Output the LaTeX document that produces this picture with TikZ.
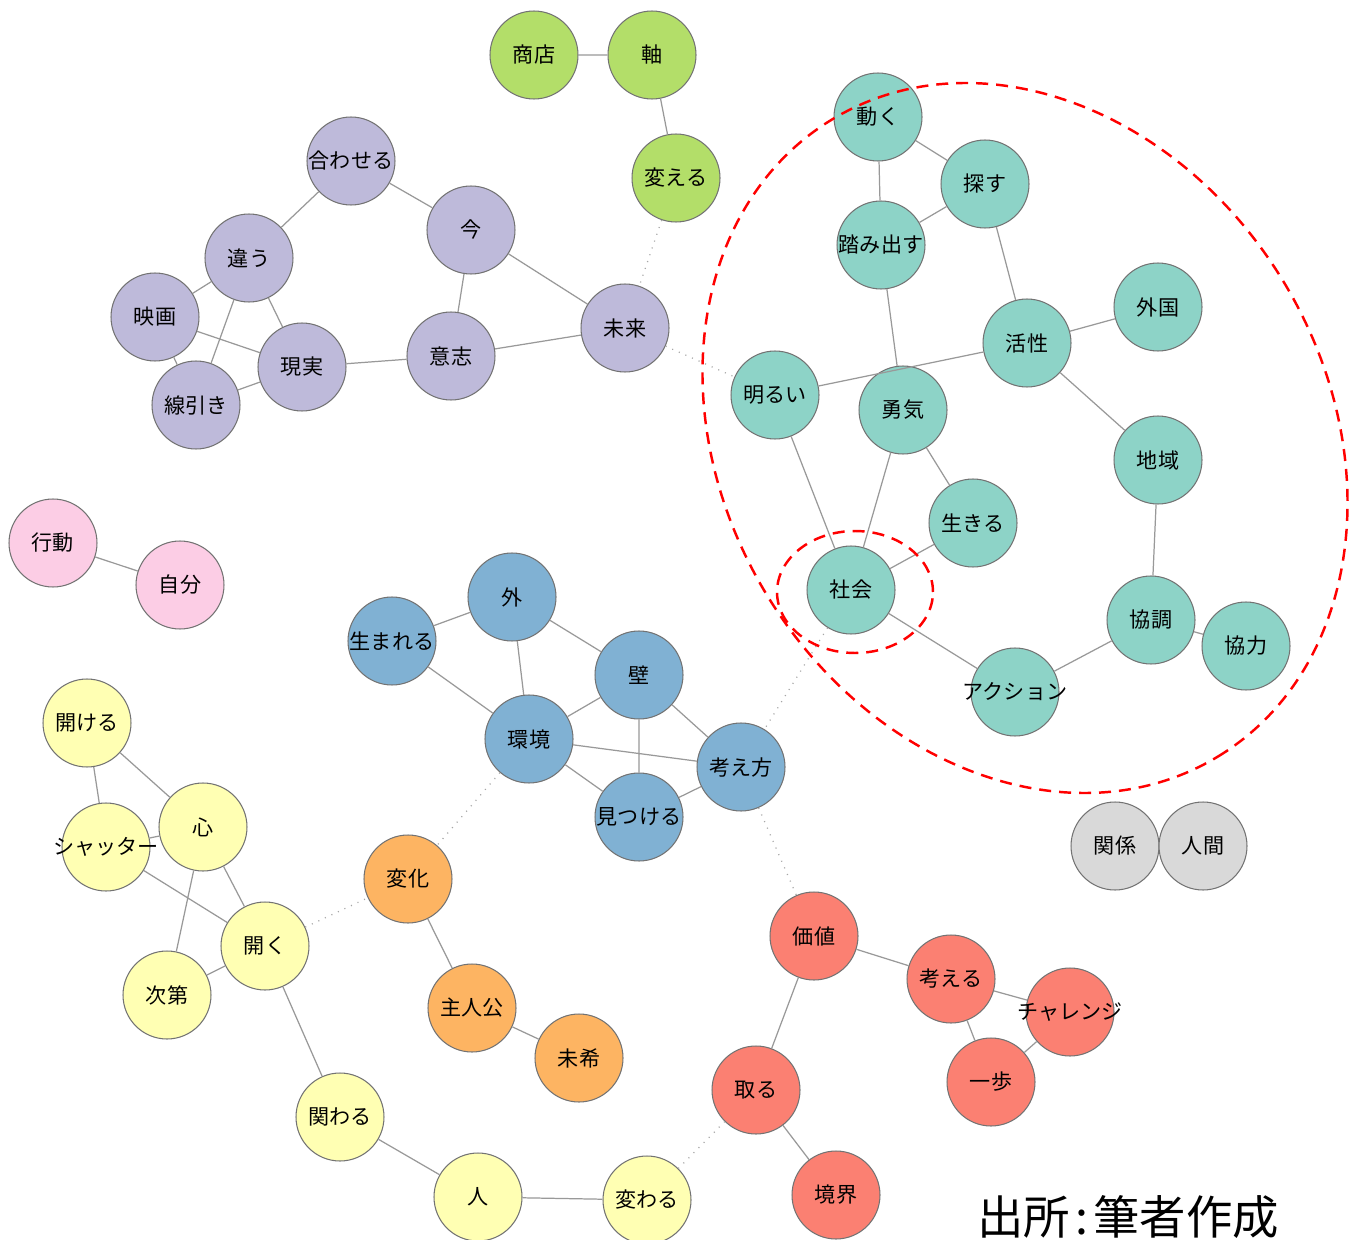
\documentclass[tikz,border=0pt]{standalone}
\usepackage{fontspec}
\usetikzlibrary{shapes.geometric}
\newfontfamily\jp{Noto Sans CJK JP}
\newcommand\fixw[1]{\makebox[0pt][c]{#1}}
\begin{document}
\begin{tikzpicture}[x=0.02cm,y=-0.02cm,
  word/.style={circle,draw=black!55,line width=0.6pt,minimum size=1.76cm,inner sep=0pt,font=\jp\fontsize{12}{14}\selectfont},
  gr/.style={word,fill=cgreen},
  pu/.style={word,fill=cpurple},
  te/.style={word,fill=cteal},
  pk/.style={word,fill=cpink},
  bl/.style={word,fill=cblue},
  ye/.style={word,fill=cyellow},
  ora/.style={word,fill=corange},
  rd/.style={word,fill=cred},
  gy/.style={word,fill=cgray},
  link/.style={draw=black!40,line width=0.7pt},
  weak/.style={draw=black!35,line width=0.7pt,dash pattern=on 0.6pt off 3.5pt},
  ring/.style={draw=red,line width=1.4pt,dash pattern=on 0.24cm off 0.16cm}]
\definecolor{cgreen}{HTML}{B3DE69}
\definecolor{cpurple}{HTML}{BEBADA}
\definecolor{cteal}{HTML}{8DD3C7}
\definecolor{cpink}{HTML}{FCCDE5}
\definecolor{cblue}{HTML}{80B1D3}
\definecolor{cyellow}{HTML}{FFFFB3}
\definecolor{corange}{HTML}{FDB462}
\definecolor{cred}{HTML}{FB8072}
\definecolor{cgray}{HTML}{D9D9D9}
\useasboundingbox[fill=white] (0,0) rectangle (1349,1240);

% green
\node[gr] (shoten) at (534,55) {商店};
\node[gr] (jiku) at (652,55) {軸};
\node[gr] (kaeru) at (676,178) {変える};
% purple
\node[pu] (awaseru) at (351,161) {\fixw{合わせる}};
\node[pu] (ima) at (471,230) {今};
\node[pu] (chigau) at (249,258) {違う};
\node[pu] (eiga) at (155,317) {映画};
\node[pu] (genjitsu) at (302,367) {現実};
\node[pu] (ishi) at (451,356) {意志};
\node[pu] (mirai) at (625,328) {未来};
\node[pu] (senbiki) at (196,405) {線引き};
% teal
\node[te] (ugoku) at (878,117) {動く};
\node[te] (sagasu) at (985,184) {探す};
\node[te] (fumidasu) at (881,245) {\fixw{踏み出す}};
\node[te] (gaikoku) at (1158,307) {外国};
\node[te] (kassei) at (1027,343) {活性};
\node[te] (akarui) at (775,395) {明るい};
\node[te] (yuki) at (903,410) {勇気};
\node[te] (chiiki) at (1158,460) {地域};
\node[te] (ikiru) at (973,523) {生きる};
\node[te] (shakai) at (851,590) {社会};
\node[te] (kyocho) at (1151,620) {協調};
\node[te] (kyoryoku) at (1246,646) {協力};
\node[te] (action) at (1015,692) {\fixw{アクション}};
% pink
\node[pk] (kodo) at (53,543) {行動};
\node[pk] (jibun) at (180,585) {自分};
% blue
\node[bl] (soto) at (512,597) {外};
\node[bl] (umareru) at (392,641) {\fixw{生まれる}};
\node[bl] (kabe) at (639,675) {壁};
\node[bl] (kankyo) at (529,739) {環境};
\node[bl] (kangaekata) at (741,767) {考え方};
\node[bl] (mitsukeru) at (639,817) {\fixw{見つける}};
% yellow
\node[ye] (akeru) at (87,723) {開ける};
\node[ye] (kokoro) at (203,827) {心};
\node[ye] (shutter) at (106,847) {\fixw{シャッター}};
\node[ye] (hiraku) at (265,946) {開く};
\node[ye] (shidai) at (167,995) {次第};
\node[ye] (kakawaru) at (340,1117) {関わる};
\node[ye] (hito) at (478,1197) {人};
\node[ye] (kawaru) at (647,1200) {変わる};
% orange
\node[ora] (henka) at (408,879) {変化};
\node[ora] (shujinko) at (472,1008) {主人公};
\node[ora] (miki) at (579,1058) {未希};
% red
\node[rd] (kachi) at (814,936) {価値};
\node[rd] (kangaeru) at (951,979) {考える};
\node[rd] (challenge) at (1070,1012) {\fixw{チャレンジ}};
\node[rd] (ippo) at (991,1082) {一歩};
\node[rd] (toru) at (756,1090) {取る};
\node[rd] (kyokai) at (836,1195) {境界};
% gray
\node[gy] (kankei) at (1115,846) {関係};
\node[gy] (ningen) at (1203,846) {人間};

% solid links
\path[link] (shoten) -- (jiku) (jiku) -- (kaeru)
  (awaseru) -- (chigau) (awaseru) -- (ima) (ima) -- (ishi) (ima) -- (mirai)
  (ishi) -- (mirai) (chigau) -- (eiga) (chigau) -- (senbiki) (chigau) -- (genjitsu)
  (eiga) -- (genjitsu) (eiga) -- (senbiki) (senbiki) -- (genjitsu) (genjitsu) -- (ishi)
  (ugoku) -- (sagasu) (ugoku) -- (fumidasu) (sagasu) -- (fumidasu) (sagasu) -- (kassei)
  (fumidasu) -- (yuki) (kassei) -- (gaikoku) (kassei) -- (akarui) (kassei) -- (chiiki)
  (chiiki) -- (kyocho) (kyocho) -- (kyoryoku) (kyocho) -- (action)
  (akarui) -- (shakai) (yuki) -- (shakai) (yuki) -- (ikiru) (ikiru) -- (shakai)
  (shakai) -- (action)
  (kodo) -- (jibun)
  (soto) -- (umareru) (soto) -- (kankyo) (soto) -- (kabe) (umareru) -- (kankyo)
  (kabe) -- (kankyo) (kabe) -- (mitsukeru) (kabe) -- (kangaekata)
  (kankyo) -- (kangaekata) (kankyo) -- (mitsukeru) (mitsukeru) -- (kangaekata)
  (akeru) -- (kokoro) (akeru) -- (shutter) (shutter) -- (kokoro) (kokoro) -- (hiraku)
  (kokoro) -- (shidai) (shutter) -- (hiraku) (hiraku) -- (shidai) (hiraku) -- (kakawaru)
  (kakawaru) -- (hito) (hito) -- (kawaru)
  (henka) -- (shujinko) (shujinko) -- (miki)
  (kachi) -- (kangaeru) (kachi) -- (toru) (kangaeru) -- (challenge) (kangaeru) -- (ippo)
  (ippo) -- (challenge) (toru) -- (kyokai);

% weak (dotted) links
\path[weak] (kaeru) -- (mirai) (mirai) -- (akarui) (shakai) -- (kangaekata)
  (kankyo) -- (henka) (kangaekata) -- (kachi) (hiraku) -- (henka) (kawaru) -- (toru);

% red dashed rings
\draw[ring,rotate around={-58.8:(1025,438)}] (1025,438) ellipse [x radius=7.45cm,y radius=6.044cm];
\node[ring,ellipse,minimum width=3.12cm,minimum height=2.44cm,inner sep=0pt] (smallring) at (855,592) {};

% source
\node[font=\jp\fontsize{26.4}{29}\selectfont,inner sep=0pt] (source) at (1128,1217) {出所\kern3pt:\kern3pt筆者作成};
\end{tikzpicture}
\end{document}
